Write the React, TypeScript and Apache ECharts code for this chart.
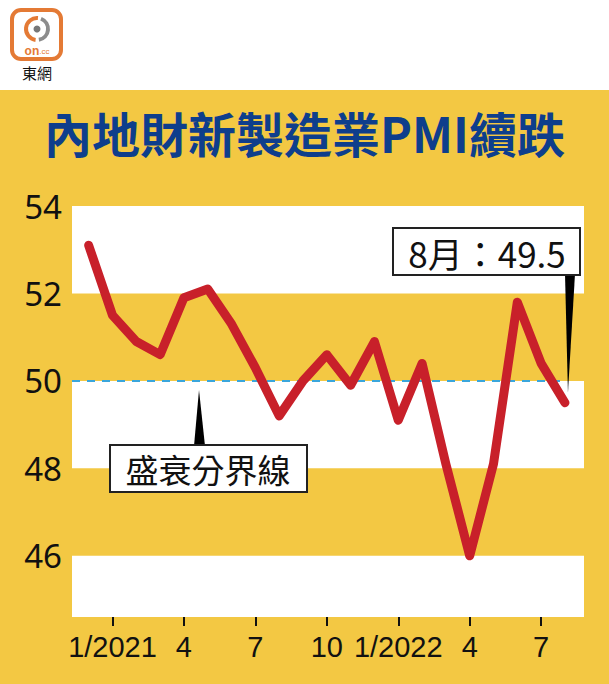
import React, { useEffect, useRef } from "react";
import * as echarts from "echarts";

// Caixin manufacturing PMI, Dec 2020 .. Aug 2022 (month index 0..20)
const months = [
  "12/2020", "1/2021", "2/2021", "3/2021", "4/2021", "5/2021", "6/2021",
  "7/2021", "8/2021", "9/2021", "10/2021", "11/2021", "12/2021",
  "1/2022", "2/2022", "3/2022", "4/2022", "5/2022", "6/2022", "7/2022", "8/2022",
];
const pmi = [
  53.1, 51.5, 50.9, 50.6, 51.9, 52.1, 51.3, 50.3, 49.2, 50.0, 50.6, 49.9, 50.9,
  49.1, 50.4, 48.1, 46.0, 48.1, 51.8, 50.4, 49.5,
];
const xTickIndex = [1, 4, 7, 10, 13, 16, 19];
const xTickLabels = ["1/2021", "4", "7", "10", "1/2022", "4", "7"];
const yTicks = [46, 48, 50, 52, 54];
const whiteBands = [
  [54, 52],
  [50, 48],
  [46, 44.6],
];
const threshold = 50;
const titleText = "內地財新製造業PMI續跌";
const thresholdLabel = "盛衰分界線";
const lastLabel = "8月：49.5";

const YELLOW = "#f3c843";
const RED = "#c8202a";
const CJK = "'Noto Sans CJK TC', 'Noto Sans CJK SC', sans-serif";

export default function App() {
  const ref = useRef<HTMLDivElement>(null);
  useEffect(() => {
    document.body.style.margin = "0";
    const chart = echarts.init(ref.current!, null, { renderer: "svg" });
    const lastIdx = pmi.length - 1;
    const xMin = -0.7;
    const xMax = 20.8;
    chart.setOption({
      animation: false,
      backgroundColor: "#ffffff",
      title: {
        text: titleText,
        left: "center",
        top: 103,
        textStyle: {
          fontSize: 48,
          fontWeight: "bold",
          color: "#0e3e8c",
          fontFamily: CJK,
        },
      },
      grid: { left: 72, right: 25, top: 206, bottom: 67 },
      xAxis: {
        type: "value",
        min: xMin,
        max: xMax,
        splitLine: { show: false },
        axisLine: { show: false },
        axisTick: {
          show: true,
          customValues: xTickIndex,
          length: 9,
          lineStyle: { color: "#111", width: 2 },
        },
        axisLabel: {
          customValues: xTickIndex,
          margin: 15,
          color: "#111",
          fontSize: 29,
          fontFamily: "'Liberation Sans', Arial, sans-serif",
          formatter: (v: number) => xTickLabels[xTickIndex.indexOf(v)] ?? "",
        },
      },
      yAxis: {
        type: "value",
        min: 44.6,
        max: 54,
        splitLine: { show: false },
        axisLine: { show: false },
        axisTick: { show: false },
        axisLabel: {
          customValues: yTicks,
          margin: 10,
          color: "#111",
          fontSize: 33,
          fontFamily: "'Noto Sans', sans-serif",
          padding: [14, 0, 0, 0],
        },
      },
      series: [
        {
          type: "line",
          z: 1,
          data: [],
          silent: true,
          markArea: {
            silent: true,
            itemStyle: { color: "#ffffff" },
            data: whiteBands.map(([a, b]) => [{ yAxis: a }, { yAxis: b }]),
          },
        },
        {
          type: "line",
          z: 2,
          silent: true,
          symbol: "none",
          data: [
            [xMin, threshold],
            [lastIdx, threshold],
          ],
          lineStyle: { color: "#3aa6dc", width: 2, type: [8, 7] },
        },
        {
          type: "line",
          name: "PMI",
          z: 3,
          symbol: "none",
          data: pmi.map((v, i) => [i, v]),
          lineStyle: { color: RED, width: 9, cap: "round", join: "round" },
        },
      ],
    });

    const y50 = chart.convertToPixel({ yAxisIndex: 0 }, threshold) as number;
    const last = chart.convertToPixel({ seriesIndex: 2 }, [lastIdx, pmi[lastIdx]]) as number[];

    chart.setOption({
      graphic: [
        {
          type: "rect",
          z: -10,
          shape: { x: 0, y: 90, width: 609, height: 600 },
          style: { fill: YELLOW },
          silent: true,
        },
        // logo
        {
          type: "rect",
          z: 10,
          shape: { x: 12, y: 10, width: 49, height: 49, r: 9 },
          style: { fill: "#fff", stroke: "#e47a35", lineWidth: 4 },
        },
        {
          type: "arc",
          z: 10,
          shape: { cx: 37, cy: 29, r: 11, startAngle: -1.2, endAngle: 1.4 },
          style: { stroke: "#8c8c8c", lineWidth: 4, fill: "none" },
        },
        {
          type: "arc",
          z: 10,
          shape: { cx: 37, cy: 29, r: 11, startAngle: 1.7, endAngle: 4.8 },
          style: { stroke: "#e47a35", lineWidth: 4, fill: "none" },
        },
        {
          type: "circle",
          z: 10,
          shape: { cx: 37, cy: 29, r: 3.5 },
          style: { fill: "#777" },
        },
        {
          type: "text",
          z: 10,
          x: 37,
          y: 51,
          style: {
            text: "{a|on}{b|.cc}",
            align: "center",
            verticalAlign: "middle",
            rich: {
              a: { fontSize: 12, fontWeight: "bold", fill: "#e47a35", fontFamily: "Arial, sans-serif" },
              b: { fontSize: 8, fill: "#e47a35", fontFamily: "Arial, sans-serif" },
            },
          },
        },
        {
          type: "text",
          z: 10,
          x: 37,
          y: 72,
          style: {
            text: "東網",
            align: "center",
            verticalAlign: "middle",
            fontSize: 15,
            fill: "#111",
            fontFamily: CJK,
          },
        },
        // threshold annotation
        {
          type: "polygon",
          z: 10,
          shape: { points: [[199, y50 + 9], [194, 446], [205, 446]] },
          style: { fill: "#000" },
        },
        {
          type: "rect",
          z: 10,
          shape: { x: 110, y: 445, width: 197, height: 47 },
          style: { fill: "#fff", stroke: "#222", lineWidth: 2 },
        },
        {
          type: "text",
          z: 11,
          x: 208,
          y: 469,
          style: {
            text: thresholdLabel,
            align: "center",
            verticalAlign: "middle",
            fontSize: 33,
            fill: "#111",
            fontFamily: CJK,
          },
        },
        // last value annotation
        {
          type: "polygon",
          z: 10,
          shape: { points: [[last[0] + 3, last[1] - 10], [565, 274], [575, 274]] },
          style: { fill: "#000" },
        },
        {
          type: "rect",
          z: 10,
          shape: { x: 393, y: 228, width: 187, height: 47 },
          style: { fill: "#fff", stroke: "#222", lineWidth: 2 },
        },
        {
          type: "text",
          z: 11,
          x: 487,
          y: 252,
          style: {
            text: lastLabel,
            align: "center",
            verticalAlign: "middle",
            fontSize: 35,
            fill: "#111",
            fontFamily: CJK,
          },
        },
      ],
    });
    return () => chart.dispose();
  }, []);
  return (
    <div
      ref={ref}
      style={{ position: "absolute", left: 0, top: 0, width: 609, height: 684 }}
    />
  );
}
